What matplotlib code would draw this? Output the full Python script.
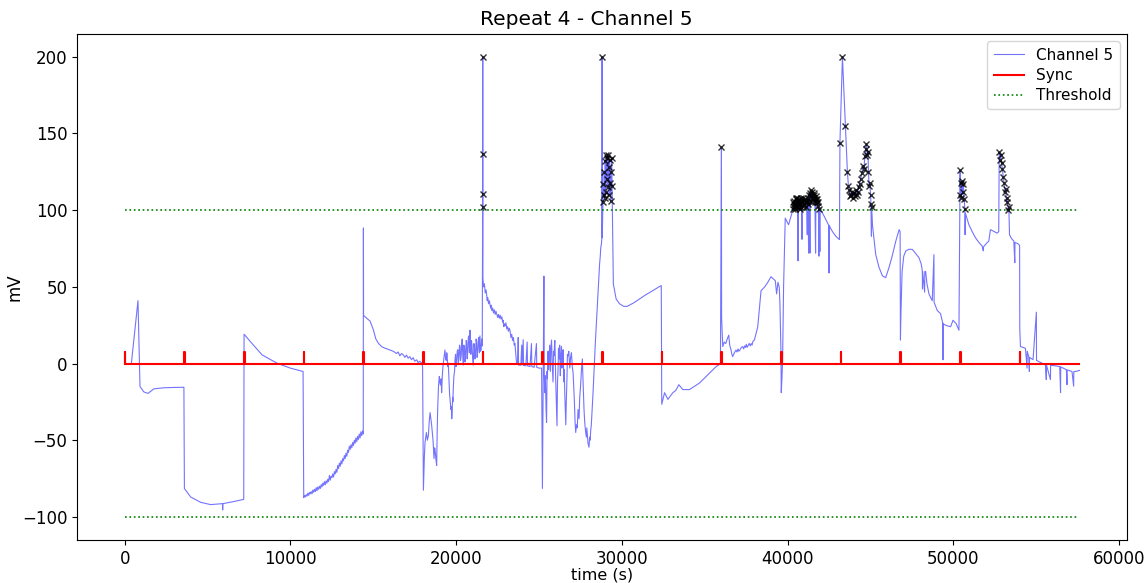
import numpy as np
import matplotlib
matplotlib.use("Agg")
import matplotlib.pyplot as plt

# ------------------------------------------------------------------
# Channel 5 trace, (time s, mV) pairs, per hour
# ------------------------------------------------------------------
hour_00 = [(0, 0), (400, 0), (800, 41), (921, -15), (1150, -18.5), (1403, -19.5),
           (1764, -16.5), (2400, -15.8), (3000, -15.6), (3570, -15.5)]
hour_01 = [(3600, -81.5), (3973, -87), (4575, -90.5), (5177, -92), (5900, -91.4),
           (5910, -95.5), (5920, -91.4), (6580, -90), (7180, -88.6)]
hour_02 = [(7200, 19.1), (7585, 14.2), (8290, 5.6), (9190, 0.2), (9990, -3),
           (10760, -5.2)]
hour_03 = [(10800, -87.5), (10850, -86), (10900, -87), (10950, -85.5), (11000, -86.5),
           (11050, -84.5), (11100, -86), (11150, -84), (11200, -85), (11250, -83.5),
           (11300, -85), (11350, -82.5), (11400, -84), (11450, -82), (11500, -83.5),
           (11550, -81), (11600, -83), (11650, -80.5), (11700, -82), (11750, -80),
           (11800, -81.5), (11850, -79), (11900, -80.5), (11950, -78), (12000, -79.5),
           (12050, -77), (12100, -79), (12150, -76.5), (12200, -78), (12250, -75.5),
           (12300, -77), (12350, -73), (12400, -76), (12450, -73.5), (12500, -74.5),
           (12550, -72), (12600, -74), (12650, -70.5), (12700, -72), (12750, -69),
           (12800, -71), (12850, -66.5), (12900, -68.5), (12950, -65), (13000, -67),
           (13050, -63.5), (13100, -65.5), (13150, -62), (13200, -63.5), (13250, -60),
           (13300, -62), (13350, -58.5), (13400, -60.5), (13450, -56.5), (13500, -58),
           (13550, -54), (13600, -56), (13650, -53), (13700, -55), (13750, -51.5),
           (13800, -53.5), (13850, -50), (13900, -52), (13950, -48.5), (14000, -51),
           (14050, -47.5), (14100, -49.5), (14150, -46), (14200, -48.5), (14250, -44.5),
           (14300, -47), (14350, -44), (14390, -46)]
hour_04 = [(14400, 88.4), (14410, 31.4), (14600, 29.5), (14800, 27.7), (15000, 22),
           (15150, 16), (15310, 13.1), (15500, 11), (15700, 10), (16010, 8.8),
           (16200, 8), (16400, 6.5), (16500, 7.5), (16600, 5), (16700, 6.5),
           (16810, 5.6), (16900, 4), (17000, 5.5), (17100, 3.5), (17200, 4.5),
           (17300, 2.5), (17400, 3.8), (17500, 1.5), (17620, 2.4), (17700, 0.5),
           (17800, 1.5), (17920, 0.2), (17970, -2)]
hour_05 = [(18020, -82.6), (18050, -70), (18080, -60), (18100, -55), (18120, -51.4),
           (18160, -48), (18200, -45), (18260, -50), (18320, -47), (18370, -38),
           (18420, -32), (18470, -36), (18520, -40.6), (18560, -45), (18600, -50),
           (18630, -56), (18660, -62), (18700, -55), (18740, -58), (18780, -63),
           (18820, -66.5), (18850, -45), (18880, -30), (18930, -15), (18980, -8.4),
           (19010, -12), (19050, -14), (19090, -10), (19120, -19), (19160, -8),
           (19200, -2), (19260, 4), (19320, 8.8), (19360, 3), (19400, 2), (19430, 7),
           (19450, 5), (19490, -2), (19520, 0.2), (19560, -10), (19600, -20),
           (19640, -25), (19680, -30), (19710, -28), (19730, -36), (19760, -30),
           (19780, -22), (19800, -25), (19820, -17), (19860, -8), (19900, -5),
           (19930, 3), (19960, 6), (19990, -2), (20030, 2), (20060, 8), (20100, 9),
           (20130, 0), (20160, 3), (20200, 12), (20230, 11), (20260, 2), (20300, 5),
           (20330, 13), (20360, 16), (20400, 4), (20430, -1), (20460, 12), (20500, 10),
           (20530, 1), (20560, 4), (20600, 15), (20630, 14), (20660, 3), (20700, 8),
           (20730, 17), (20760, 18), (20800, 7), (20830, 21.7), (20860, 10),
           (20880, 6), (20920, 15), (20950, 12), (20990, 4), (21030, -1), (21070, 13),
           (21100, 10), (21130, 3), (21160, 5), (21200, 16), (21230, 14), (21260, 4),
           (21300, 8), (21330, 15), (21360, 17), (21400, 7), (21430, 18), (21470, 8),
           (21500, 9), (21540, 16), (21570, 11.4), (21590, 102), (21595, 110.5)]
hour_06 = [(21600, 200), (21605, 136.5), (21610, 56), (21650, 50), (21700, 52),
           (21750, 46), (21800, 48), (21830, 45.4), (21870, 41), (21900, 43),
           (21950, 39), (22000, 41), (22030, 38.9), (22080, 36), (22120, 38),
           (22160, 34.5), (22200, 36), (22250, 33), (22300, 35), (22350, 32),
           (22400, 34), (22440, 32.5), (22500, 30), (22550, 32), (22600, 29.5),
           (22650, 31.5), (22700, 29), (22750, 30.5), (22800, 27), (22830, 28.2),
           (22870, 24), (22900, 26), (22950, 24.5), (23000, 26.5), (23050, 22.5),
           (23100, 24), (23150, 21), (23200, 23), (23240, 21.7), (23300, 17),
           (23350, 19), (23400, 15), (23450, 17), (23500, 12), (23540, 13.1),
           (23600, 5), (23640, 0.2), (23700, -0.5), (23740, 17), (23760, -1),
           (23900, -1), (23950, 12), (23970, -1), (24040, 15.5), (24060, -1.2),
           (24200, -1.5), (24280, 14), (24300, -1.5), (24450, -2), (24540, 13),
           (24560, -2), (24700, -2.5), (24840, 13), (24860, -2.5), (25000, -3),
           (25150, -3)]
hour_07 = [(25200, -81.5), (25290, 57), (25310, -5), (25340, -19), (25380, -8),
           (25420, -30), (25450, -38.5), (25480, -5), (25500, -10), (25540, 8),
           (25570, -4), (25600, 3), (25640, 12), (25680, -5), (25710, 10),
           (25750, 15.3), (25790, 0), (25840, -12), (25870, 8), (25900, 5),
           (25930, 12), (25950, 15), (25980, 2), (26000, -10), (26040, -25),
           (26080, -40.6), (26110, -12), (26140, -5), (26170, 10), (26210, 3),
           (26240, 12), (26280, -8), (26310, 5), (26350, 11), (26380, -3), (26420, 0),
           (26450, 9), (26490, -12), (26520, -4), (26550, -20), (26580, -30),
           (26610, -40), (26640, -25), (26680, -10), (26710, 6), (26750, 5),
           (26790, 8), (26850, -3), (26900, 4), (26950, 7), (27000, -2), (27050, -6),
           (27090, -15), (27130, -25), (27170, -38), (27210, -45), (27250, -40),
           (27300, -42), (27350, -30), (27410, -36), (27450, -22), (27500, -15),
           (27550, -5), (27610, 3), (27640, -8), (27680, -20), (27710, -30),
           (27750, -38), (27800, -44), (27850, -48), (27880, -42), (27900, -45),
           (27950, -52), (28010, -54.6), (28050, -48), (28080, -50), (28110, -44),
           (28150, -40), (28200, -30), (28250, -20), (28300, -8), (28350, 3),
           (28400, 15), (28450, 25), (28500, 35), (28550, 45.4), (28600, 55),
           (28650, 65), (28690, 70), (28720, 75.5), (28760, 78), (28790, 82)]
hour_08 = [(28800, 200), (28810, 82), (28850, 105), (28880, 117), (28900, 110),
           (28930, 125), (28960, 108), (28990, 132), (29020, 112), (29050, 136),
           (29080, 120), (29110, 134), (29140, 115), (29170, 136), (29200, 128),
           (29230, 110), (29260, 133), (29290, 118), (29320, 106), (29350, 125),
           (29380, 134), (29400, 116), (29440, 84), (29480, 51.8), (29650, 42),
           (29860, 38.9), (30100, 37.3), (30300, 37.2), (30700, 39.5), (31060, 42.1),
           (31460, 45), (31860, 47.5), (32200, 49.8), (32370, 50.8)]
hour_09 = [(32400, -26.6), (32570, -19), (32770, -23.4), (33070, -19), (33250, -17.5),
           (33430, -13.8), (33670, -17), (34070, -17), (34680, -12.7), (35280, -6.3),
           (35680, -2), (35940, -0.2)]
hour_10 = [(36000, 141), (36010, 30.3), (36080, 11), (36170, 14), (36260, 13),
           (36350, 16), (36440, 18.5), (36500, 12), (36580, 8.8), (36630, 6),
           (36680, 4.5), (36780, 7), (36880, 8.8), (36940, 7.5), (37000, 9.5),
           (37050, 8), (37100, 8.5), (37200, 10.5), (37280, 11), (37340, 9.5),
           (37400, 11.5), (37450, 10.5), (37500, 12.5), (37550, 10.5), (37600, 11.5),
           (37680, 13.1), (37740, 11.5), (37800, 13), (37850, 12), (37900, 14.5),
           (37990, 15.3), (38190, 23.9), (38390, 47.5), (38590, 49.7), (38800, 53),
           (38990, 56.6), (39150, 55), (39250, 54), (39330, 45.4), (39410, 53),
           (39490, 49.7), (39530, 38.9), (39590, 8.8)]
hour_11 = [(39610, -19), (39650, -10), (39690, 2), (39750, 50), (39850, 94.8),
           (40050, 90.5), (40250, 98), (40300, 101), (40330, 105), (40350, 104),
           (40380, 102), (40400, 106), (40430, 101), (40450, 103), (40480, 108),
           (40500, 107), (40530, 102), (40550, 105), (40580, 108), (40600, 104),
           (40620, 67), (40640, 106), (40670, 102), (40700, 107), (40730, 101),
           (40750, 104), (40780, 108), (40800, 106), (40830, 102), (40860, 81),
           (40880, 105), (40910, 108), (40950, 103), (40980, 106), (41000, 104),
           (41030, 107), (41050, 100), (41080, 105), (41100, 102), (41140, 106),
           (41180, 84), (41200, 108), (41230, 104), (41260, 72), (41280, 110),
           (41310, 106), (41340, 72), (41360, 111), (41390, 113), (41420, 109),
           (41450, 105), (41480, 112), (41510, 107), (41540, 108), (41570, 111),
           (41600, 110), (41640, 105), (41680, 72), (41700, 107), (41730, 109),
           (41760, 105), (41790, 107), (41820, 103), (41850, 105), (41880, 70),
           (41900, 101), (41940, 73), (41960, 100), (42050, 99), (42200, 96),
           (42480, 90), (42490, 59), (42500, 90), (42700, 86), (42900, 83),
           (43120, 80.8), (43150, 144)]
hour_12 = [(43300, 200), (43480, 155), (43600, 125), (43660, 116),
           (43700, 113), (43760, 109), (43800, 110), (43860, 112), (43920, 108),
           (43980, 111), (44050, 109), (44100, 113), (44160, 110), (44220, 112),
           (44280, 115), (44340, 117), (44410, 120.6), (44470, 124), (44550, 129),
           (44600, 127), (44650, 135), (44700, 140), (44750, 143), (44800, 136),
           (44840, 138), (44870, 125), (44910, 116), (44950, 118), (45000, 110),
           (45020, 104), (45050, 83), (45060, 102), (45070, 99), (45110, 90.5),
           (45310, 71), (45500, 63), (45710, 57.2), (45910, 56), (46110, 62.6),
           (46300, 70), (46520, 79.8), (46720, 87.3), (46780, 86)]
hour_13 = [(46800, 15.3), (46830, 32.5), (46900, 60), (47000, 70), (47120, 73.3),
           (47300, 74.5), (47520, 74.4), (47700, 72), (47920, 69), (48050, 65),
           (48120, 60.4), (48130, 48.6), (48140, 60), (48260, 46.5), (48270, 60),
           (48320, 60), (48400, 52), (48520, 45.4), (48620, 43), (48720, 41),
           (48820, 71), (48830, 40), (48900, 38), (49020, 34.6), (49220, 32.5),
           (49360, 26), (49365, 2.4), (49370, 26), (49520, 25), (49650, 24.5),
           (49830, 24), (49970, 28.2), (50160, 26), (50330, 21.7)]
hour_14 = [(50400, 126), (50420, 110), (50450, 118), (50480, 108), (50520, 119),
           (50560, 112), (50600, 117), (50640, 107), (50690, 100.8), (50700, 84),
           (50720, 98), (50930, 90.5), (51130, 86), (51330, 82), (51530, 79),
           (51730, 76.6), (51800, 73.5), (51810, 76), (52000, 78.5), (52130, 79.8),
           (52230, 87.3), (52430, 86.2), (52630, 85), (52730, 86), (52760, 137.8),
           (52800, 133), (52850, 136), (52900, 131), (52950, 127), (53000, 121.7),
           (53050, 118), (53100, 112), (53150, 114), (53200, 105.6), (53250, 108),
           (53300, 100.2), (53340, 102), (53380, 84), (53500, 81.5), (53640, 79.8),
           (53700, 65.8), (53710, 79), (53900, 78), (53990, 77)]
hour_15 = [(54000, 22.8), (54040, 11), (54200, 10.5), (54340, 9.9), (54440, -3),
           (54450, 8), (54540, 4.5), (54580, -5.2), (54590, 4), (54800, 2.5),
           (55000, 33.5), (55010, 2), (55140, 1.3), (55550, -0.9), (55600, -10.5),
           (55610, -1), (55850, -10.5), (55860, -1.2), (56150, -1.5), (56410, -2),
           (56460, -19), (56470, -2.2), (56810, -4), (56850, -13.8), (56860, -4.2),
           (57150, -5.2), (57250, -14.8), (57260, -5.3), (57450, -5), (57600, -4.5)]

sync_times = [0, 3600, 7200, 10800, 14400, 18000, 21600, 25200, 28800, 32400,
              36000, 39600, 43200, 46800, 50400, 54000]
sync_end = 57600
sync_height = 7.5
threshold = 100

# ------------------------------------------------------------------
trace = np.array(hour_00 + hour_01 + hour_02 + hour_03 + hour_04 + hour_05 +
                 hour_06 + hour_07 + hour_08 + hour_09 + hour_10 + hour_11 +
                 hour_12 + hour_13 + hour_14 + hour_15, dtype=float)
t, mv = trace[:, 0], trace[:, 1]
above = mv > threshold

# sync pulse train: flat zero with a short pulse at each sync time
sx, sy = [], []
for st in sync_times:
    sx += [st, st, st + 30, st + 30]
    sy += [0, sync_height, sync_height, 0]
sx.append(sync_end)
sy.append(0)

fig = plt.figure(figsize=(11.44, 5.83), dpi=100)
ax = fig.add_axes([0.0673, 0.074, 0.918, 0.868])

ax.plot(t, mv, color='blue', lw=0.8, alpha=0.55, label='Channel 5')
ax.plot(sx, sy, color='red', lw=1.5, label='Sync')
ax.plot([0, sync_end], [threshold, threshold], color='green', ls=':', lw=1.2,
        label='Threshold')
ax.plot([0, sync_end], [-threshold, -threshold], color='green', ls=':', lw=1.2)
ax.plot(t[above], mv[above], 'x', color='black', ms=5, alpha=0.8)

ax.set_title('Repeat 4 - Channel 5', fontsize=14.5, x=0.485)
ax.set_xlabel('time (s)', fontsize=11.5, labelpad=0)
ax.set_ylabel('mV', fontsize=12, labelpad=-1)
ax.tick_params(labelsize=12)
ax.legend(loc='upper right', fontsize=11, labelspacing=0.35)

fig.savefig('out.png', dpi=100)
